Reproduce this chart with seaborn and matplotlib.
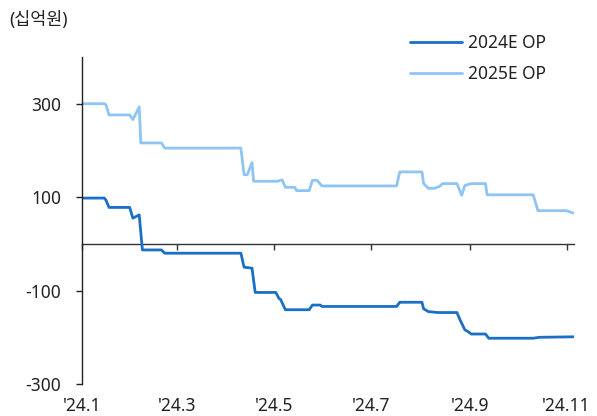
import matplotlib
matplotlib.use("Agg")
import matplotlib.pyplot as plt
import matplotlib.dates as mdates
import pandas as pd
import seaborn as sns

# Consensus operating profit estimates (KRW bn), change points through 2024
dates_2024e = ["2024-01-01", "2024-01-15", "2024-01-16", "2024-01-18", "2024-01-31",
               "2024-02-02", "2024-02-06", "2024-02-08", "2024-02-20", "2024-02-22",
               "2024-04-10", "2024-04-12", "2024-04-17", "2024-04-19", "2024-05-02",
               "2024-05-04", "2024-05-05", "2024-05-08", "2024-05-23", "2024-05-25",
               "2024-05-30", "2024-05-31", "2024-07-17", "2024-07-19", "2024-08-02",
               "2024-08-03", "2024-08-06", "2024-08-12", "2024-08-24", "2024-08-26",
               "2024-08-29", "2024-08-31", "2024-09-02", "2024-09-11", "2024-09-13",
               "2024-10-11", "2024-10-15", "2024-11-05", "2024-11-06"]
op_2024e = [98, 98, 94, 78, 78,
            55, 62, -13, -13, -20,
            -20, -50, -52, -104, -104,
            -117, -119, -141, -141, -131,
            -131, -134, -134, -125, -125,
            -139, -145, -147, -147, -163,
            -184, -188, -193, -193, -202,
            -202, -200, -199, -199]

dates_2025e = ["2024-01-01", "2024-01-15", "2024-01-16", "2024-01-18", "2024-01-31",
               "2024-02-02", "2024-02-06", "2024-02-07", "2024-02-20", "2024-02-22",
               "2024-04-10", "2024-04-12", "2024-04-14", "2024-04-17", "2024-04-18",
               "2024-05-03", "2024-05-06", "2024-05-08", "2024-05-14", "2024-05-15",
               "2024-05-23", "2024-05-25", "2024-05-28", "2024-05-31", "2024-07-17",
               "2024-07-19", "2024-08-02", "2024-08-03", "2024-08-06", "2024-08-10",
               "2024-08-13", "2024-08-15", "2024-08-24", "2024-08-27", "2024-08-29",
               "2024-09-02", "2024-09-11", "2024-09-12", "2024-10-11", "2024-10-14",
               "2024-11-01", "2024-11-05", "2024-11-06"]
op_2025e = [300, 300, 298, 276, 276,
            266, 293, 216, 216, 205,
            205, 148, 148, 174, 134,
            134, 137, 121, 121, 114,
            114, 136, 136, 124, 124,
            154, 154, 129, 119, 119,
            123, 129, 129, 104, 125,
            129, 129, 105, 105, 71,
            71, 66, 66]

series_names = ["2024E OP", "2025E OP"]
series_colors = ["#1a6fc6", "#8ec5f4"]
tick_dates = ["2024-01-01", "2024-03-01", "2024-05-01", "2024-07-01", "2024-09-01", "2024-11-01"]
tick_labels = ["'24.1", "'24.3", "'24.5", "'24.7", "'24.9", "'24.11"]
y_ticks = [-300, -100, 100, 300]
unit_label = "(십억원)"

df = pd.concat([
    pd.DataFrame({"date": pd.to_datetime(dates_2024e), "op": op_2024e, "series": series_names[0]}),
    pd.DataFrame({"date": pd.to_datetime(dates_2025e), "op": op_2025e, "series": series_names[1]}),
], ignore_index=True)

sns.set_theme(style="white")
plt.rcParams["font.family"] = ["Noto Sans", "Noto Sans CJK KR", "DejaVu Sans"]
plt.rcParams["axes.unicode_minus"] = False

fs = 12.5
ink = "#222222"

fig = plt.figure(figsize=(5.97, 4.16), dpi=100)
ax = fig.add_axes([0.1374, 0.0769, 0.9623 - 0.1374, 0.8630 - 0.0769])

sns.lineplot(data=df, x="date", y="op", hue="series", hue_order=series_names,
             palette=series_colors, linewidth=2.0, ax=ax, legend=True)

ax.set_xlim(pd.Timestamp("2024-01-01"), pd.Timestamp("2024-11-06"))
ax.set_ylim(-300, 400)
ax.set_xlabel("")
ax.set_ylabel("")

# y axis: left spine only
for side in ["top", "right", "bottom"]:
    ax.spines[side].set_visible(False)
ax.spines["left"].set_color(ink)
ax.spines["left"].set_linewidth(1.0)
ax.set_yticks(y_ticks)
ax.set_yticklabels([str(v) for v in y_ticks])
ax.tick_params(axis="y", which="both", left=True, direction="out", length=4,
               width=1, color=ink, pad=11, labelsize=fs, labelcolor=ink)

# x labels along the bottom, tick marks on the zero line
tick_pos = mdates.date2num(pd.to_datetime(tick_dates))
ax.set_xticks(tick_pos)
ax.set_xticklabels(tick_labels)
ax.tick_params(axis="x", which="both", bottom=True, length=0, pad=9,
               labelsize=fs, labelcolor=ink)

zero_frac = (0 - (-300)) / (400 - (-300))
sec = ax.secondary_xaxis(zero_frac)
sec.set_xticks(tick_pos)
sec.set_xticklabels([])
sec.tick_params(axis="x", direction="out", length=4, width=1, color="#333333")
sec.spines["bottom"].set_color("#333333")
sec.spines["bottom"].set_linewidth(1.0)
for side in ["top", "left", "right"]:
    sec.spines[side].set_visible(False)

handles, labels = ax.get_legend_handles_labels()
ax.legend(handles, labels, loc="upper left", bbox_to_anchor=(0.687, 0.919),
          bbox_transform=fig.transFigure, frameon=False, fontsize=fs,
          handlelength=3.0, handletextpad=0.35, labelspacing=0.77,
          labelcolor=ink, borderaxespad=0.0, borderpad=0.0)

fig.text(0.015, 0.952, unit_label, fontsize=fs, color=ink,
         ha="left", va="center")

fig.savefig("out.png", dpi=100)
